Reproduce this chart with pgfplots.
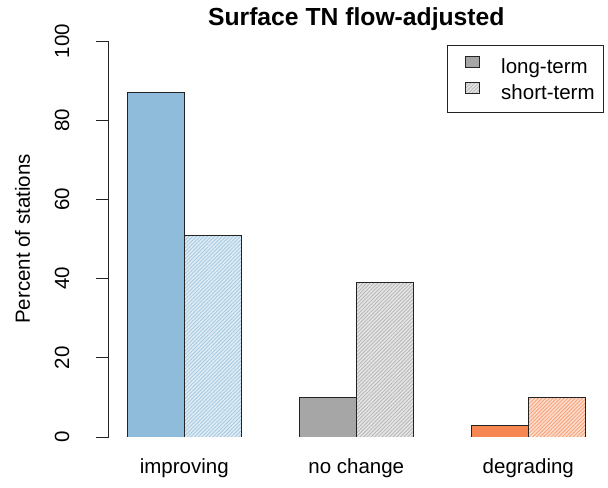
\documentclass[border=0pt]{standalone}
\usepackage{pgfplots}
\pgfplotsset{compat=1.18}
\usepackage{fontspec}
\setmainfont{Liberation Sans}
\usetikzlibrary{patterns.meta}
\definecolor{cblue}{RGB}{143,188,219}
\definecolor{cgray}{RGB}{166,166,166}
\definecolor{corange}{RGB}{247,135,82}
\definecolor{edge}{RGB}{35,35,35}
\newcommand\basefont{\fontsize{20.5bp}{24bp}\selectfont}
\begin{document}
\begin{tikzpicture}
\useasboundingbox (0,0) rectangle (608bp,488bp);
\begin{axis}[
  at={(108.6bp,51bp)}, anchor=south west,
  scale only axis, width=495.4bp, height=396bp,
  xmin=0.68, xmax=9.32, ymin=0, ymax=100,
  enlargelimits=false,
  axis lines=left,
  axis line style={-, line width=0.8bp, edge},
  x axis line style={draw=none},
  xtick={2,5,8},
  xticklabels={improving,no change,degrading},
  xtick style={draw=none},
  xticklabel style={anchor=base, yshift=-24bp, font=\basefont},
  ytick={0,20,40,60,80,100},
  tick align=outside,
  major tick length=13bp,
  ytick style={line width=0.8bp, edge},
  yticklabel style={xshift=-26.5bp, rotate=90, anchor=base, font=\basefont, inner sep=0pt},
  /pgf/number format/assume math mode=true,
  ylabel={Percent of stations},
  every axis y label/.style={at={([xshift=-86bp]rel axis cs:0,0.5)}, rotate=90, anchor=center, font=\fontsize{20.5bp}{24bp}\selectfont},
  title={Surface TN flow-adjusted},
  title style={at={(rel axis cs:0.5,1)}, anchor=base, yshift=10bp, font=\fontsize{24.7bp}{28bp}\selectfont\bfseries},
  ybar, bar width=1, bar shift=0pt,
  legend style={at={(rel axis cs:1.0,0.99)}, anchor=north east, draw=edge, line width=0.8bp,
    font=\basefont, inner xsep=8bp, inner ysep=10.5bp, row sep=6bp, nodes={inner sep=1bp}},
  legend cell align=left,
  legend image code/.code={\draw[#1, line width=0.8bp] (0bp,-0.5bp) rectangle (14bp,10.5bp); \path[draw=none,fill=none,pattern=none] (-10bp,0bp) (34bp,0bp);},
]
\addplot[draw=edge, line width=0.8bp, fill=cblue, forget plot] coordinates {(1.5,87)};
\addplot[draw=edge, line width=0.8bp, fill=cblue!30, postaction={pattern={Lines[angle=45,distance=2.6bp,line width=0.7bp]}, pattern color=cblue!85}, forget plot] coordinates {(2.5,51)};
\addplot[draw=edge, line width=0.8bp, fill=cgray] coordinates {(4.5,10)};
\addplot[draw=edge, line width=0.8bp, fill=cgray!30, postaction={pattern={Lines[angle=45,distance=2.6bp,line width=0.7bp]}, pattern color=cgray!85}] coordinates {(5.5,39)};
\addplot[draw=edge, line width=0.8bp, fill=corange, forget plot] coordinates {(7.5,3)};
\addplot[draw=edge, line width=0.8bp, fill=corange!30, postaction={pattern={Lines[angle=45,distance=2.6bp,line width=0.7bp]}, pattern color=corange!85}, forget plot] coordinates {(8.5,10)};
\legend{long-term, short-term}
\end{axis}
\end{tikzpicture}
\end{document}
